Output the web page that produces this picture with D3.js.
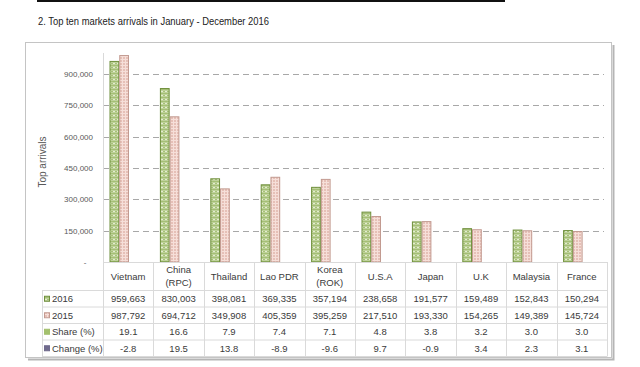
<!DOCTYPE html>
<html><head><meta charset="utf-8">
<script src="https://cdn.jsdelivr.net/npm/d3@7"></script>
<style>body{margin:0;background:#fff;} svg{display:block;font-family:"Liberation Sans",Arial,sans-serif;}</style>
</head><body><svg id="c" width="640" height="367"></svg>
<script>
const categories = ["Vietnam","China (RPC)","Thailand","Lao PDR","Korea (ROK)","U.S.A","Japan","U.K","Malaysia","France"];
const seriesNames = ["2016","2015"];
const arrivals2016 = [959663,830003,398081,369335,357194,238658,191577,159489,152843,150294];
const arrivals2015 = [987792,694712,349908,405359,395259,217510,193330,154265,149389,145724];
const sharePct = [19.1,16.6,7.9,7.4,7.1,4.8,3.8,3.2,3.0,3.0];
const changePct = [-2.8,19.5,13.8,-8.9,-9.6,9.7,-0.9,3.4,2.3,3.1];
const yTicks = [0,150000,300000,450000,600000,750000,900000];
const rowLabels = ["2016","2015","Share (%)","Change (%)"];

const svg = d3.select("#c");
const plotL = 103, plotR = 607, yBase = 262, yTop = 53;
const x = d3.scaleBand().domain(categories).range([plotL, plotR]).padding(0);
const inner = d3.scaleBand().domain(seriesNames).range([6.5, 26]);
const y = d3.scaleLinear().domain([0, 1000000]).range([yBase, yTop]);

// patterns
const defs = svg.append("defs");
const pg = defs.append("pattern").attr("id","pg").attr("patternUnits","userSpaceOnUse").attr("width",4).attr("height",4);
pg.append("rect").attr("width",4).attr("height",4).attr("fill","#e4edd0");
pg.append("path").attr("d","M0,4 L2,1 L4,4 M0,2 L2,-1 L4,2").attr("stroke","#9ab866").attr("stroke-width",1).attr("fill","none");
const pp = defs.append("pattern").attr("id","pp").attr("patternUnits","userSpaceOnUse").attr("width",3).attr("height",3);
pp.append("rect").attr("width",3).attr("height",3).attr("fill","#f6dfd9");
pp.append("circle").attr("cx",1).attr("cy",1).attr("r",0.75).attr("fill","#d09384");
const fills = {"2016":"url(#pg)","2015":"url(#pp)"};
const strokes = {"2016":"#6f8f3c","2015":"#c29a90"};

// top rule & title
svg.append("line").attr("x1",37).attr("x2",505).attr("y1",1).attr("y2",1).attr("stroke","#111").attr("stroke-width",2);
svg.append("text").attr("x",38).attr("y",25).attr("font-size",11).attr("fill","#222")
  .attr("textLength",231).attr("lengthAdjust","spacingAndGlyphs")
  .text("2. Top ten markets arrivals in January - December 2016");

// frame with shadow
svg.append("path").attr("d","M613.5,45 V359.5 H28").attr("stroke","#b5b5b5").attr("stroke-width",2).attr("fill","none");
svg.append("rect").attr("x",25.5).attr("y",42.5).attr("width",586).attr("height",315)
  .attr("fill","#fff").attr("stroke","#c4c4c4");

// gridlines
svg.append("g").selectAll("line").data(yTicks.filter(d=>d>0)).join("line")
  .attr("x1",plotL).attr("x2",plotR-3).attr("y1",d=>Math.round(y(d))+0.5).attr("y2",d=>Math.round(y(d))+0.5)
  .attr("stroke","#a8a8a8").attr("stroke-dasharray","6,4");

// y axis
const yAxis = d3.axisLeft(y).tickValues(yTicks).tickSize(0).tickPadding(0)
  .tickFormat(d => d === 0 ? "-   " : d3.format(",")(d));
const ga = svg.append("g").attr("transform",`translate(${plotL-10},0)`).call(yAxis);
ga.select(".domain").remove();
ga.selectAll("text").attr("font-size",8).attr("fill","#595959").style("white-space","pre")
  .attr("font-family","Liberation Sans, Arial, sans-serif");
svg.append("line").attr("x1",plotL+0.5).attr("x2",plotL+0.5).attr("y1",yTop).attr("y2",357)
  .attr("stroke","#d9d9d9");
svg.append("text").attr("transform","translate(46,162) rotate(-90)").attr("text-anchor","middle")
  .attr("font-size",10).attr("fill","#595959").text("Top arrivals");

// bars
const barData = [];
categories.forEach((c,i)=>{
  barData.push({c, s:"2016", v:arrivals2016[i]});
  barData.push({c, s:"2015", v:arrivals2015[i]});
});
svg.append("g").selectAll("rect").data(barData).join("rect")
  .attr("x",d=>x(d.c)+inner(d.s)+0.5).attr("width",inner.bandwidth()-1)
  .attr("y",d=>y(d.v)).attr("height",d=>yBase-y(d.v))
  .attr("fill",d=>fills[d.s]).attr("stroke",d=>strokes[d.s]).attr("stroke-width",1);

// table
const tableL = 42, rowTop = 290.5, rowH = 16.5;
const nRows = rowLabels.length;
const tableB = rowTop + nRows*rowH;
const tg = svg.append("g");
const lineC = "#dadada";
tg.append("line").attr("x1",plotL).attr("x2",plotR).attr("y1",yBase+0.5).attr("y2",yBase+0.5).attr("stroke",lineC);
for (let r=0;r<=nRows;r++){
  tg.append("line").attr("x1",tableL).attr("x2",plotR).attr("y1",rowTop+r*rowH).attr("y2",rowTop+r*rowH).attr("stroke",lineC);
}
tg.append("line").attr("x1",tableL+0.5).attr("x2",tableL+0.5).attr("y1",rowTop).attr("y2",tableB).attr("stroke",lineC);
categories.forEach(c=>{
  const xe = Math.round(x(c)+x.bandwidth())+0.5;
  tg.append("line").attr("x1",xe).attr("x2",xe).attr("y1",yBase).attr("y2",tableB).attr("stroke",lineC);
});
const tf = "#3a3a3a", fs = 9.5;
categories.forEach(c=>{
  const cx = x(c)+x.bandwidth()/2;
  const parts = c.includes(" (") ? [c.slice(0,c.indexOf(" (")), c.slice(c.indexOf(" (")+1)] : [c];
  parts.forEach((p,k)=>{
    const yy = parts.length===1 ? 279.5 : 273 + k*13;
    tg.append("text").attr("x",cx).attr("y",yy).attr("text-anchor","middle").attr("font-size",fs).attr("fill",tf).text(p);
  });
});
const rowsVals = [arrivals2016.map(d3.format(",")), arrivals2015.map(d3.format(",")),
  sharePct.map(d3.format(".1f")), changePct.map(d=>d3.format(".1f")(d).replace("−","-"))];
rowsVals.forEach((vals,r)=>{
  const yy = rowTop + r*rowH + rowH/2 + 3.5;
  vals.forEach((v,i)=>{
    tg.append("text").attr("x",x(categories[i])+x.bandwidth()/2).attr("y",yy).attr("text-anchor","middle")
      .attr("font-size",fs).attr("fill",tf).text(v);
  });
  tg.append("text").attr("x",52).attr("y",yy).attr("font-size",fs).attr("fill",tf).text(rowLabels[r]);
});
// legend keys
const keyFill = ["url(#pg)","url(#pp)","#a3c06d","#6f6a8c"];
const keyStroke = ["#6f8f3c","#c29a90","#a3c06d","#6f6a8c"];
keyFill.forEach((f,r)=>{
  const cy = rowTop + r*rowH + rowH/2;
  tg.append("rect").attr("x",44.5).attr("y",cy-2.5).attr("width",5).attr("height",5)
    .attr("fill",f).attr("stroke",keyStroke[r]).attr("stroke-width",1);
});
</script>
</body></html>
